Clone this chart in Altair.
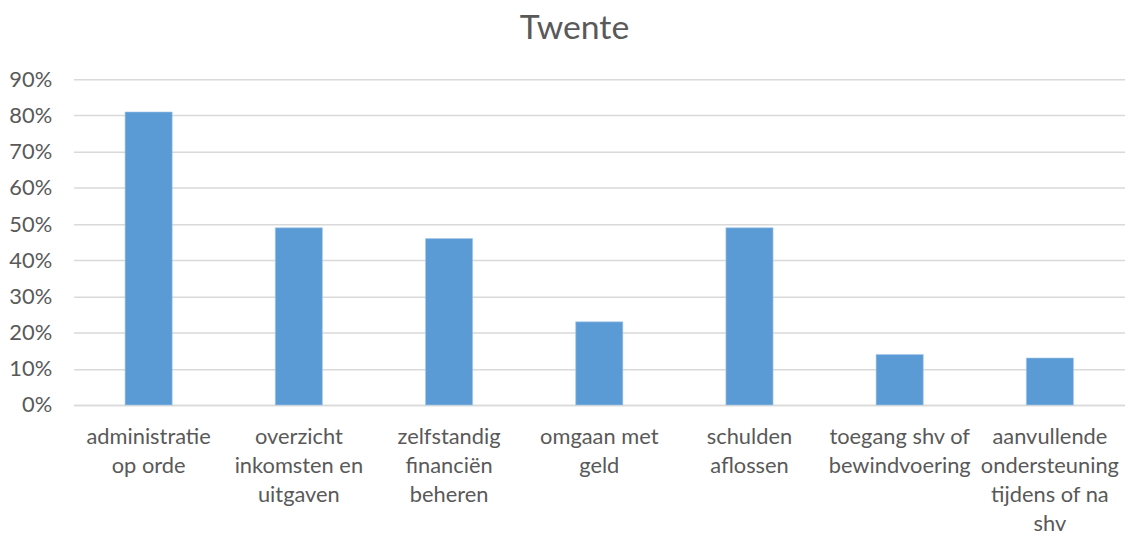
import altair as alt
import pandas as pd

categories = [
    "administratie\nop orde",
    "overzicht\ninkomsten en\nuitgaven",
    "zelfstandig\nfinanciën\nbeheren",
    "omgaan met\ngeld",
    "schulden\naflossen",
    "toegang shv of\nbewindvoering",
    "aanvullende\nondersteuning\ntijdens of na\nshv",
]
values = [0.81, 0.49, 0.46, 0.23, 0.49, 0.14, 0.13]

df = pd.DataFrame({"cat": categories, "val": values})

FONT = "Lato"
GREY = "#595959"

chart = (
    alt.Chart(df)
    .mark_bar(color="#5b9bd5", stroke="#a9cbe9", strokeWidth=0.6)
    .encode(
        x=alt.X(
            "cat:N",
            sort=categories,
            title=None,
            scale=alt.Scale(paddingInner=0.686, paddingOuter=0.343),
            axis=alt.Axis(
                labelExpr="split(datum.label, '\\n')",
                labelAngle=0,
                labelFont=FONT,
                labelFontSize=22,
                labelColor=GREY,
                labelLineHeight=29,
                labelBaseline="top",
                labelPadding=22,
                labelLimit=0,
                ticks=False,
                domain=True,
                domainColor="#d9d9d9",
                domainWidth=1.5,
            ),
        ),
        y=alt.Y(
            "val:Q",
            title=None,
            scale=alt.Scale(domain=[0, 0.9], nice=False),
            axis=alt.Axis(
                format=".0%",
                values=[0, 0.1, 0.2, 0.3, 0.4, 0.5, 0.6, 0.7, 0.8, 0.9],
                labelFont=FONT,
                labelFontSize=22,
                labelColor=GREY,
                labelPadding=22,
                ticks=False,
                domain=False,
                grid=True,
                gridColor="#d9d9d9",
                gridWidth=1.5,
            ),
        ),
    )
    .properties(
        width=1059,
        height=328,
        title=alt.TitleParams(
            "Twente",
            font=FONT,
            fontSize=34,
            fontWeight="normal",
            color=GREY,
            anchor="middle",
            frame="group",
            dx=-25,
            offset=23,
        ),
        autosize=alt.AutoSizeParams(type="none"),
        padding={"left": 66, "top": 70, "right": 0, "bottom": 128},
    )
    .configure_view(stroke=None)
)

chart.save("out.html", embed_options={"renderer": "svg", "actions": False})
